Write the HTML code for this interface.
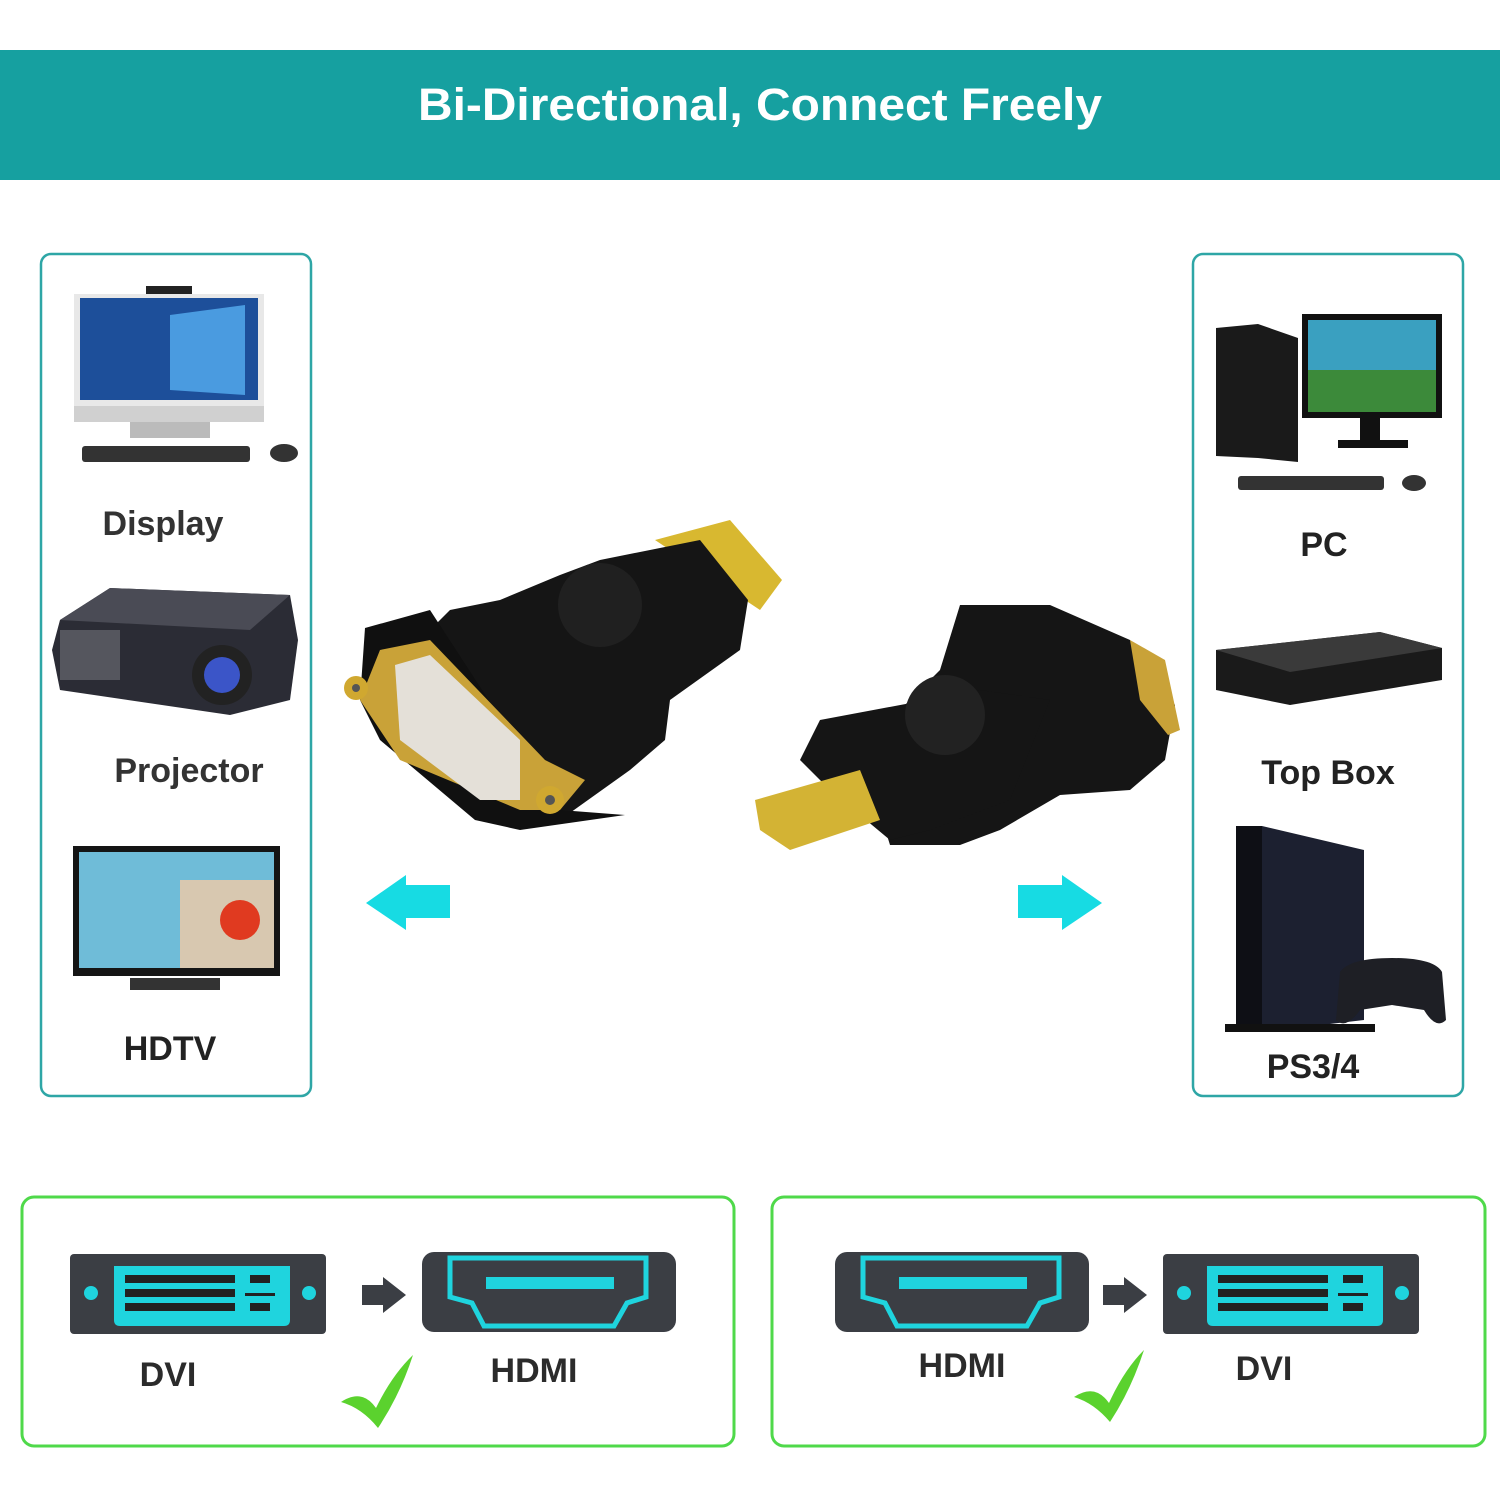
<!DOCTYPE html>
<html><head><meta charset="utf-8"><style>
body{margin:0;background:#fff}
svg{display:block}
text{font-family:"Liberation Sans",sans-serif;font-weight:bold}
</style></head><body>
<svg width="1500" height="1500" viewBox="0 0 1500 1500" xmlns="http://www.w3.org/2000/svg">
<rect width="1500" height="1500" fill="#fff"/>
<rect x="0" y="50" width="1500" height="130" fill="#16a0a0"/>
<text x="760" y="120" font-size="45" fill="#fff" text-anchor="middle" textLength="684" lengthAdjust="spacingAndGlyphs">Bi-Directional, Connect Freely</text>

<rect x="41" y="254" width="270" height="842" rx="10" fill="none" stroke="#2ea6a6" stroke-width="2.5"/>
<rect x="1193" y="254" width="270" height="842" rx="10" fill="none" stroke="#2ea6a6" stroke-width="2.5"/>

<!-- Display -->
<rect x="146" y="286" width="46" height="8" fill="#222"/>
<rect x="74" y="294" width="190" height="112" fill="#e8e8e8"/>
<rect x="80" y="298" width="178" height="102" fill="#1d4f9a"/>
<polygon points="170,315 245,305 245,395 170,390" fill="#4a9be0"/>
<rect x="74" y="406" width="190" height="16" fill="#d0d0d0"/>
<rect x="130" y="422" width="80" height="16" fill="#bbb"/>
<rect x="82" y="446" width="168" height="16" rx="3" fill="#333"/>
<ellipse cx="284" cy="453" rx="14" ry="9" fill="#333"/>
<text x="163" y="535" font-size="34" fill="#333" text-anchor="middle">Display</text>

<!-- Projector -->
<polygon points="60,620 110,588 290,595 298,640 290,700 230,715 60,690 52,650" fill="#2b2c35"/>
<polygon points="60,620 110,588 290,595 250,630" fill="#4a4b55"/>
<rect x="60" y="630" width="60" height="50" fill="#55565e"/>
<circle cx="222" cy="675" r="30" fill="#222"/>
<circle cx="222" cy="675" r="18" fill="#3b55c8"/>
<text x="189" y="782" font-size="34" fill="#333" text-anchor="middle">Projector</text>

<!-- HDTV -->
<rect x="73" y="846" width="207" height="130" fill="#151515"/>
<rect x="79" y="852" width="195" height="116" fill="#6fbcd8"/>
<rect x="180" y="880" width="94" height="88" fill="#d8c8b0"/>
<circle cx="240" cy="920" r="20" fill="#e03a20"/>
<rect x="130" y="978" width="90" height="12" fill="#333"/>
<text x="170" y="1060" font-size="34" fill="#222" text-anchor="middle">HDTV</text>

<!-- PC -->
<polygon points="1216,328 1258,324 1298,338 1298,462 1258,458 1216,456" fill="#1a1a1a"/>
<rect x="1302" y="314" width="140" height="104" fill="#111"/>
<rect x="1308" y="320" width="128" height="92" fill="#3aa0c0"/>
<rect x="1308" y="370" width="128" height="42" fill="#3c8a3a"/>
<rect x="1360" y="418" width="20" height="26" fill="#111"/>
<rect x="1338" y="440" width="70" height="8" fill="#111"/>
<rect x="1238" y="476" width="146" height="14" rx="3" fill="#333"/>
<ellipse cx="1414" cy="483" rx="12" ry="8" fill="#333"/>
<text x="1324" y="556" font-size="34" fill="#222" text-anchor="middle">PC</text>

<!-- Top box -->
<polygon points="1216,650 1380,632 1442,648 1442,680 1290,705 1216,690" fill="#1a1a1a"/>
<polygon points="1216,650 1380,632 1442,648 1290,672" fill="#3a3a3a"/>
<text x="1328" y="784" font-size="34" fill="#222" text-anchor="middle">Top Box</text>

<!-- PS4 -->
<polygon points="1236,826 1262,826 1364,850 1364,1020 1262,1032 1236,1032" fill="#1c2030"/>
<polygon points="1236,826 1262,826 1262,1032 1236,1032" fill="#0e0f15"/>
<rect x="1225" y="1024" width="150" height="8" fill="#111"/>
<path d="M1340,972 Q1350,958 1392,958 Q1434,958 1442,972 L1446,1020 Q1436,1030 1424,1010 L1392,1005 L1360,1010 Q1346,1030 1336,1020 Z" fill="#1e1f25"/>
<text x="1313" y="1078" font-size="34" fill="#222" text-anchor="middle">PS3/4</text>

<!-- left adapter -->
<polygon points="655,540 730,520 782,580 760,610 745,600" fill="#d8b830"/>
<polygon points="600,560 700,540 748,600 740,650 670,700 665,740 630,770 560,820 530,800 455,740 420,640 450,610 500,600 560,575" fill="#151515"/>
<polygon points="365,628 430,610 560,810 625,815 520,830 475,820 380,740 360,700" fill="#101010"/>
<polygon points="380,650 430,640 545,760 585,780 560,810 520,810 400,760 360,700" fill="#c9a238"/>
<polygon points="395,665 430,655 520,740 520,800 480,800 400,740" fill="#e4e0d8"/>
<circle cx="356" cy="688" r="12" fill="#d0a830"/>
<circle cx="550" cy="800" r="14" fill="#d0a830"/>
<circle cx="356" cy="688" r="4" fill="#555"/>
<circle cx="550" cy="800" r="5" fill="#555"/>
<circle cx="600" cy="605" r="42" fill="#202020"/>

<!-- right adapter -->
<polygon points="960,605 1050,605 1130,640 1175,705 1165,760 1130,790 1060,795 1000,830 960,845 890,845 870,780 890,720 940,670" fill="#151515"/>
<polygon points="820,720 980,690 1050,700 1010,800 930,830 890,840 830,790 800,760" fill="#151515"/>
<polygon points="1130,640 1165,660 1180,730 1168,735 1140,700" fill="#c9a238"/>
<polygon points="755,800 860,770 880,820 790,850 760,830" fill="#d3b334"/>
<circle cx="945" cy="715" r="40" fill="#222"/>

<!-- cyan arrows -->
<polygon points="366,903 406,875 406,885 450,885 450,918 406,918 406,930" fill="#17dbe3"/>
<polygon points="1102,903 1062,875 1062,885 1018,885 1018,918 1062,918 1062,930" fill="#17dbe3"/>

<!-- bottom boxes -->
<rect x="22" y="1197" width="712" height="249" rx="12" fill="none" stroke="#4fd94a" stroke-width="3"/>
<rect x="772" y="1197" width="713" height="249" rx="12" fill="none" stroke="#4fd94a" stroke-width="3"/>

<g id="dvi">
<rect x="70" y="1254" width="256" height="80" rx="4" fill="#3b3e44"/>
<path d="M114,1266 H290 V1320 Q290,1326 284,1326 H120 Q114,1326 114,1320 Z" fill="#1fd4de"/>
<circle cx="91" cy="1293" r="7" fill="#1fd4de"/>
<circle cx="309" cy="1293" r="7" fill="#1fd4de"/>
<g fill="#222">
<rect x="125" y="1275" width="110" height="8"/>
<rect x="125" y="1289" width="110" height="8"/>
<rect x="125" y="1303" width="110" height="8"/>
<rect x="250" y="1275" width="20" height="8"/>
<rect x="245" y="1293" width="30" height="3"/>
<rect x="250" y="1303" width="20" height="8"/>
</g>
</g>
<use href="#dvi" transform="translate(1093,0)"/>

<polygon points="362,1285 383,1285 383,1277 406,1295 383,1313 383,1305 362,1305" fill="#3b3e44"/>
<polygon points="1103,1285 1124,1285 1124,1277 1147,1295 1124,1313 1124,1305 1103,1305" fill="#3b3e44"/>

<g id="hdmi">
<rect x="422" y="1252" width="254" height="80" rx="12" fill="#3b3e44"/>
<path d="M450,1258 H646 V1297 L627,1303 L614,1326 H484 L472,1303 L450,1297 Z" fill="none" stroke="#1fd4de" stroke-width="5"/>
<rect x="486" y="1277" width="128" height="12" fill="#1fd4de"/>
</g>
<use href="#hdmi" transform="translate(413,0)"/>

<path d="M341,1402 Q362,1388 376,1408 Q392,1375 413,1355 Q400,1395 378,1428 Q362,1408 341,1402Z" fill="#5bd22e"/>
<path d="M1074,1397 Q1095,1383 1109,1403 Q1124,1370 1144,1350 Q1131,1390 1110,1422 Q1094,1403 1074,1397Z" fill="#5bd22e"/>

<text x="168" y="1386" font-size="34" fill="#2b2b2b" text-anchor="middle">DVI</text>
<text x="534" y="1382" font-size="34" fill="#2b2b2b" text-anchor="middle">HDMI</text>
<text x="962" y="1377" font-size="34" fill="#2b2b2b" text-anchor="middle">HDMI</text>
<text x="1264" y="1380" font-size="34" fill="#2b2b2b" text-anchor="middle">DVI</text>
</svg>
</body></html>
